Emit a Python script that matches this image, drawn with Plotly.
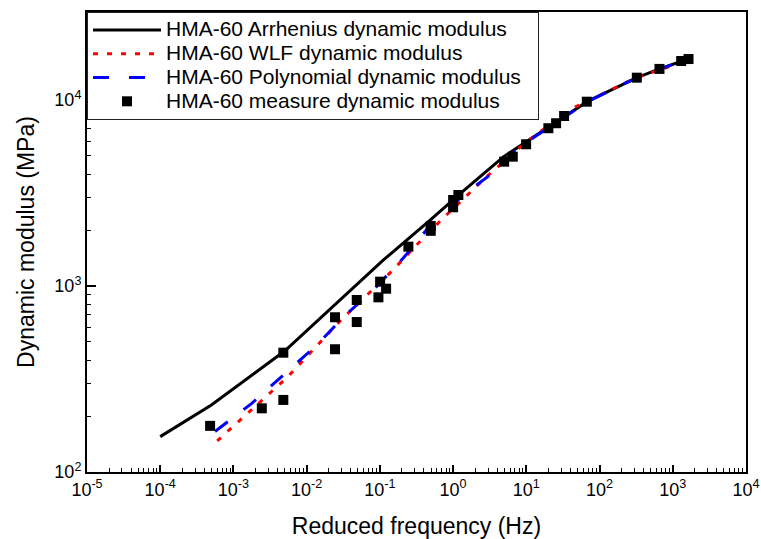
import plotly.graph_objects as go

# Arrhenius shifted master curve (Hz, MPa)
arr_freq = [1e-4, 5.0e-4, 5.0e-3, 0.0234, 0.112, 0.49, 1.26, 4.9, 19.1, 67.6, 324, 661, 1622]
arr_mod = [155, 229, 447, 780, 1380, 2265, 3148, 4955, 7047, 9795, 13183, 14690, 16600]

# WLF master curve
wlf_freq = [6.0e-4, 5.4e-3, 0.0288, 0.151, 0.316, 0.741, 2.88, 10.0, 43.6, 316, 1413]
wlf_mod = [147, 322, 650, 1219, 1660, 2330, 3873, 5960, 9057, 13183, 16032]

# Polynomial master curve
poly_freq = [5.6e-4, 1.78e-3, 5.4e-3, 0.0138, 0.0339, 0.0813, 0.209, 0.513, 1.38, 3.2, 8.2, 20.0, 67.6, 324, 1585]
poly_mod = [165, 234, 346, 482, 698, 951, 1413, 2173, 3083, 3954, 5610, 7080, 9772, 13183, 16600]

# measured dynamic modulus
meas_freq = [4.8e-4, 2.44e-3, 4.8e-3, 4.8e-3, 0.0244, 0.0244, 0.0483, 0.0483, 0.0955, 0.1007, 0.1216,
             0.245, 0.495, 0.495, 1.0, 1.0, 1.18, 4.98, 6.53, 9.93, 20.0, 25.5, 32.8, 67.0,
             323, 658, 1303, 1640]
meas_mod = [177, 220, 244, 438, 457, 679, 640, 841, 869, 1055, 967,
            1627, 1980, 2100, 2650, 2900, 3085, 4660, 4958, 5780, 7050, 7500, 8200, 9790,
            13180, 14690, 16200, 16600]

x_tickvals = [1e-5, 1e-4, 1e-3, 1e-2, 1e-1, 1, 10, 100, 1000, 10000]
x_ticktext = ["10<sup>-5</sup>", "10<sup>-4</sup>", "10<sup>-3</sup>", "10<sup>-2</sup>", "10<sup>-1</sup>",
              "10<sup>0</sup>", "10<sup>1</sup>", "10<sup>2</sup>", "10<sup>3</sup>", "10<sup>4</sup>"]
y_tickvals = [100, 1000, 10000]
y_ticktext = ["10<sup>2</sup>", "10<sup>3</sup>", "10<sup>4</sup>"]

names = ["HMA-60 Arrhenius dynamic modulus", "HMA-60 WLF dynamic modulus",
         "HMA-60 Polynomial dynamic modulus", "HMA-60 measure dynamic modulus"]

FONT = "Liberation Sans, Arial, sans-serif"


def leg(s, pad=0):
    return '<span style="font-size:21px">' + s + "\u00a0" * pad + "</span>"


fig = go.Figure()
fig.add_trace(go.Scatter(x=arr_freq, y=arr_mod, mode="lines", name=leg(names[0]),
                         line=dict(color="black", width=3)))
fig.add_trace(go.Scatter(x=wlf_freq, y=wlf_mod, mode="lines", name=leg(names[1]),
                         line=dict(color="#ff0000", width=3, dash="5px,9px")))
fig.add_trace(go.Scatter(x=poly_freq, y=poly_mod, mode="lines", name=leg(names[2], 2),
                         line=dict(color="#0000ff", width=3, dash="16px,20px")))
fig.add_trace(go.Scatter(x=meas_freq, y=meas_mod, mode="markers", name=leg(names[3]),
                         marker=dict(symbol="square", size=10, color="black")))

fig.update_layout(
    width=761, height=539,
    margin=dict(l=87, r=15, t=12, b=67, autoexpand=False),
    paper_bgcolor="white", plot_bgcolor="white",
    font=dict(family=FONT, color="black", size=18),
    showlegend=True,
    legend=dict(x=0, y=1, xanchor="left", yanchor="top",
                bgcolor="white", bordercolor="#222", borderwidth=1,
                font=dict(size=16, family=FONT), itemwidth=68,
                tracegroupgap=0),
    xaxis=dict(type="log", range=[-5, 4], showgrid=False, zeroline=False, automargin=False,
               showline=True, linecolor="black", linewidth=2, mirror=True,
               ticks="inside", ticklen=7, tickwidth=1.5, tickcolor="black",
               tickvals=x_tickvals, ticktext=x_ticktext,
               tickfont=dict(size=18, family=FONT),
               minor=dict(ticks="inside", ticklen=4, tickwidth=1, tickcolor="black", dtick="D1", showgrid=False),
               title=dict(text="Reduced frequency (Hz)", font=dict(size=23, family=FONT), standoff=24)),
    yaxis=dict(type="log", range=[2, 4.473], showgrid=False, zeroline=False, automargin=False,
               showline=True, linecolor="black", linewidth=2, mirror=True,
               ticks="inside", ticklen=9, tickwidth=1.5, tickcolor="black",
               tickvals=y_tickvals, ticktext=y_ticktext,
               tickfont=dict(size=18, family=FONT),
               minor=dict(ticks="inside", ticklen=4, tickwidth=1, tickcolor="black", dtick="D1", showgrid=False),
               title=dict(text="Dynamic modulus (MPa)", font=dict(size=23, family=FONT), standoff=13)),
)

fig.write_html("out.html")
